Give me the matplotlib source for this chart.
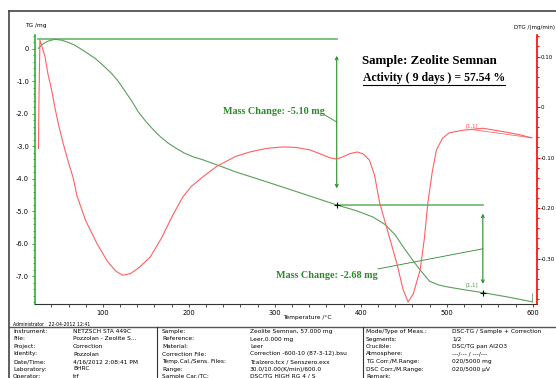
import numpy as np
import matplotlib.pyplot as plt
from matplotlib.lines import Line2D
from matplotlib.ticker import MultipleLocator, FixedLocator

# TG curve (mass, mg) vs temperature (°C)
temp_tg = [25, 30, 36, 44, 52, 60, 67, 78, 91, 100, 110, 118, 126, 134, 141, 149, 157,
           166, 176, 186, 195, 205, 215, 236, 254, 280, 309, 340, 372, 395, 414, 428,
           440, 449, 459, 469, 480, 490, 500, 520, 542, 570, 599]
tg = [0.02, 0.15, 0.24, 0.30, 0.27, 0.2, 0.12, -0.06, -0.29, -0.5, -0.75, -1.0, -1.31,
      -1.62, -1.93, -2.2, -2.44, -2.68, -2.90, -3.07, -3.21, -3.32, -3.40, -3.6, -3.78,
      -4.0, -4.25, -4.52, -4.80, -4.98, -5.17, -5.4, -5.72, -6.08, -6.45, -6.8, -7.15,
      -7.26, -7.32, -7.41, -7.5, -7.63, -7.78]

# DTG curve (mg/min) vs temperature (°C)
temp_dtg = [25, 25.5, 26.7, 29, 32.6, 36, 40.3, 44, 48, 52, 55.8, 60, 65.5, 70, 80, 93,
            105, 115, 123, 132, 142, 155, 168, 181, 193, 203, 215, 232, 254, 271, 290,
            309, 325, 341, 356, 365, 372, 380, 388, 396, 403, 410, 416, 422, 432, 442,
            449, 455, 461, 469, 474, 478, 483, 488, 495, 503, 519, 542, 570, 585, 599]
dtg = [-0.082, 0.0, 0.133, 0.12, 0.1, 0.066, 0.034, 0.0, -0.032, -0.06, -0.085, -0.11,
       -0.141, -0.177, -0.225, -0.27, -0.305, -0.325, -0.333, -0.33, -0.318, -0.297,
       -0.26, -0.215, -0.178, -0.157, -0.14, -0.118, -0.098, -0.089, -0.082, -0.079,
       -0.080, -0.085, -0.095, -0.101, -0.103, -0.098, -0.092, -0.089, -0.093, -0.105,
       -0.135, -0.19, -0.25, -0.31, -0.36, -0.386, -0.37, -0.323, -0.26, -0.19, -0.13,
       -0.085, -0.062, -0.051, -0.046, -0.042, -0.05, -0.055, -0.061]

# mass change steps
step_temps = [372, 542]
step_start = [0.30, -4.80]
step_end = [-4.80, -7.50]
step_labels = ["Mass Change: -5.10 mg", "Mass Change: -2.68 mg"]

title = "Sample: Zeolite Semnan"
subtitle = "Activity ( 9 days ) = 57.54 %"

info_left_keys = ["Instrument:", "File:", "Project:", "Identity:", "Date/Time:", "Laboratory:", "Operator:"]
info_left_vals = ["NETZSCH STA 449C", "Pozzolan - Zeolite S...", "Correction", "Pozzolan",
                  "4/16/2012 2:08:41 PM", "BHRC", "trf"]
info_mid_keys = ["Sample:", "Reference:", "Material:", "Correction File:", "Temp.Cal./Sens. Files:",
                 "Range:", "Sample Car./TC:"]
info_mid_vals = ["Zeolite Semnan, 57.000 mg", "Leer,0.000 mg", "Leer", "Correction -600-10 (87-3-12).bsu",
                 "Tcalzero.tcx / Senszero.exx", "30.0/10.00(K/min)/600.0", "DSC/TG HIGH RG 4 / S"]
info_right_keys = ["Mode/Type of Meas.:", "Segments:", "Crucible:", "Atmosphere:", "TG Corr./M.Range:",
                   "DSC Corr./M.Range:", "Remark:"]
info_right_vals = ["DSC-TG / Sample + Correction", "1/2", "DSC/TG pan Al2O3", "---/--- / ---/---",
                   "020/5000 mg", "020/5000 \u00b5V", ""]

W, H = 556, 378
def fx(x):
    return x / W
def fy(y):
    return 1 - y / H

green_line = '#5a9e5a'
green_text = '#2a8a2a'
red_line = '#ff6060'

fig = plt.figure(figsize=(5.56, 3.78), dpi=100)
ax = fig.add_axes([fx(35), fy(304), (537 - 35) / W, (304 - 35) / H])
ax2 = ax.twinx()

ax.plot(temp_tg, tg, color=green_line, lw=0.8, zorder=3)
ax2.plot(temp_dtg, dtg, color=red_line, lw=0.8)

ax.set_xlim(21, 605)
ax.set_ylim(-7.85, 0.43)
ax2.set_ylim(-0.390, 0.1426)

# spines
ax.spines['top'].set_visible(False)
ax2.spines['top'].set_visible(False)
ax2.spines['left'].set_visible(False)
ax2.spines['bottom'].set_visible(False)
ax.spines['right'].set_visible(False)
ax.spines['left'].set_color('#33b033')
ax.spines['left'].set_linewidth(1.2)
ax2.spines['right'].set_color('#ff0000')
ax2.spines['right'].set_linewidth(1.2)
ax.spines['bottom'].set_color('#333333')
ax.spines['bottom'].set_linewidth(0.8)

ax.xaxis.set_major_locator(FixedLocator([100, 200, 300, 400, 500, 600]))
ax.xaxis.set_minor_locator(MultipleLocator(20))
ax.yaxis.set_minor_locator(MultipleLocator(0.2))
ax2.yaxis.set_minor_locator(MultipleLocator(0.02))

ax.set_yticks(np.arange(0, -7.5, -1.0))
ax.set_yticklabels(['0'] + ['%.1f' % v for v in np.arange(-1.0, -7.5, -1.0)])
ax2.set_yticks([0.1, 0, -0.1, -0.2, -0.3])
ax2.set_yticklabels(['0.10', '0', '-0.10', '-0.20', '-0.30'])

ax.tick_params(axis='x', which='both', direction='out', length=2, width=0.6, color='#333333',
               labelsize=4.8, pad=2)
ax.tick_params(axis='y', which='major', direction='out', length=2.2, width=0.7, color='#33b033',
               labelsize=4.8, pad=2)
ax.tick_params(axis='y', which='minor', direction='out', length=1.5, width=0.7, color='#33b033')
ax2.tick_params(axis='y', which='major', direction='out', length=1.8, width=0.7, color='#ff0000',
                labelsize=4.0, pad=1.0)
ax2.tick_params(axis='y', which='minor', direction='out', length=1.3, width=0.7, color='#ff0000')

# mass change annotations
ax.plot([temp_tg[0], step_temps[0]], [step_start[0], step_start[0]], color='#77bb77', lw=1.3, zorder=2)
ax.plot([step_temps[0], step_temps[1]], [step_start[1], step_start[1]], color='#77bb77', lw=1.3, zorder=2)
for t, a, b in zip(step_temps, step_start, step_end):
    inset = 0.1 * (a - b)
    ax.annotate('', xy=(t, b + inset), xytext=(t, a - inset),
                arrowprops=dict(arrowstyle='<->', color='#2a8a2a', lw=0.8,
                                mutation_scale=5, shrinkA=0, shrinkB=0))
ax.plot(step_temps, step_end, linestyle='none', marker='+', color='black', ms=5, mew=0.8, zorder=5)

ax.text(358, -1.91, step_labels[0], ha='right', va='center', color=green_text,
        fontsize=7.3, fontweight='bold', family='Liberation Serif')
ax.plot([358, step_temps[0]], [-2.03, -2.25], color=green_text, lw=0.6)
ax.text(301, -6.98, step_labels[1], ha='left', va='center', color=green_text,
        fontsize=7.3, fontweight='bold', family='Liberation Serif')
ax.plot([420, step_temps[1]], [-6.77, -6.15], color=green_text, lw=0.6)

# curve end tags
ax2.text(529, -0.037, '[1,1]', color='#ff5050', fontsize=3.8, ha='center', va='center')
ax2.plot([531, temp_dtg[-1]], [-0.045, dtg[-1]], color='#ff5050', lw=0.5)
ax.text(529, -7.25, '[1,1]', color='#4a9a4a', fontsize=3.8, ha='center', va='center')
ax.plot([599, temp_tg[-1]], [-7.5, tg[-1]], color='#4a9a4a', lw=0.5)

# titles
fig.text(fx(362), fy(61), title, fontsize=9.4, fontweight='bold', family='Liberation Serif',
         ha='left', va='center')
sub = fig.text(fx(363), fy(78), subtitle, fontsize=8.5, fontweight='bold',
               family='Liberation Serif', ha='left', va='center')
fig.canvas.draw()
bb = sub.get_window_extent().transformed(fig.transFigure.inverted())
fig.add_artist(Line2D([bb.x0, bb.x1], [bb.y0 - 0.003, bb.y0 - 0.003], color='black', lw=0.8))

# axis labels
fig.text(fx(25), fy(26), 'TG /mg', fontsize=4.2, ha='left', va='center')
fig.text(fx(555), fy(27), 'DTG /(mg/min)', fontsize=4.0, ha='right', va='center')
fig.text(fx(307), fy(318), 'Temperature /\u00b0C', fontsize=4.2, ha='center', va='center')

# outer frame
fig.add_artist(Line2D([fx(9), 1.0], [fy(11), fy(11)], color='#444444', lw=1.2))
fig.add_artist(Line2D([fx(9), fx(9)], [fy(11), 0.0], color='#444444', lw=1.2))

# info table
fig.text(fx(13), fy(324), 'Administrator   22-04-2012 12:41', fontsize=3.3, ha='left', va='center')
fig.add_artist(Line2D([fx(9), 1.0], [fy(327), fy(327)], color='#555555', lw=1.0))
fig.add_artist(Line2D([fx(157), fx(157)], [fy(327), 0.0], color='#333333', lw=0.8))
fig.add_artist(Line2D([fx(363), fx(363)], [fy(327), 0.0], color='#333333', lw=0.8))
row_y = [331.5, 339, 346.5, 354, 361.5, 369, 376.5]
cols = [(13, info_left_keys), (73, info_left_vals), (162, info_mid_keys), (250, info_mid_vals),
        (366, info_right_keys), (452, info_right_vals)]
for x, texts in cols:
    for y, s in zip(row_y, texts):
        fig.text(fx(x), fy(y), s, fontsize=4.2, ha='left', va='center')

fig.savefig('out.png', dpi=100)
